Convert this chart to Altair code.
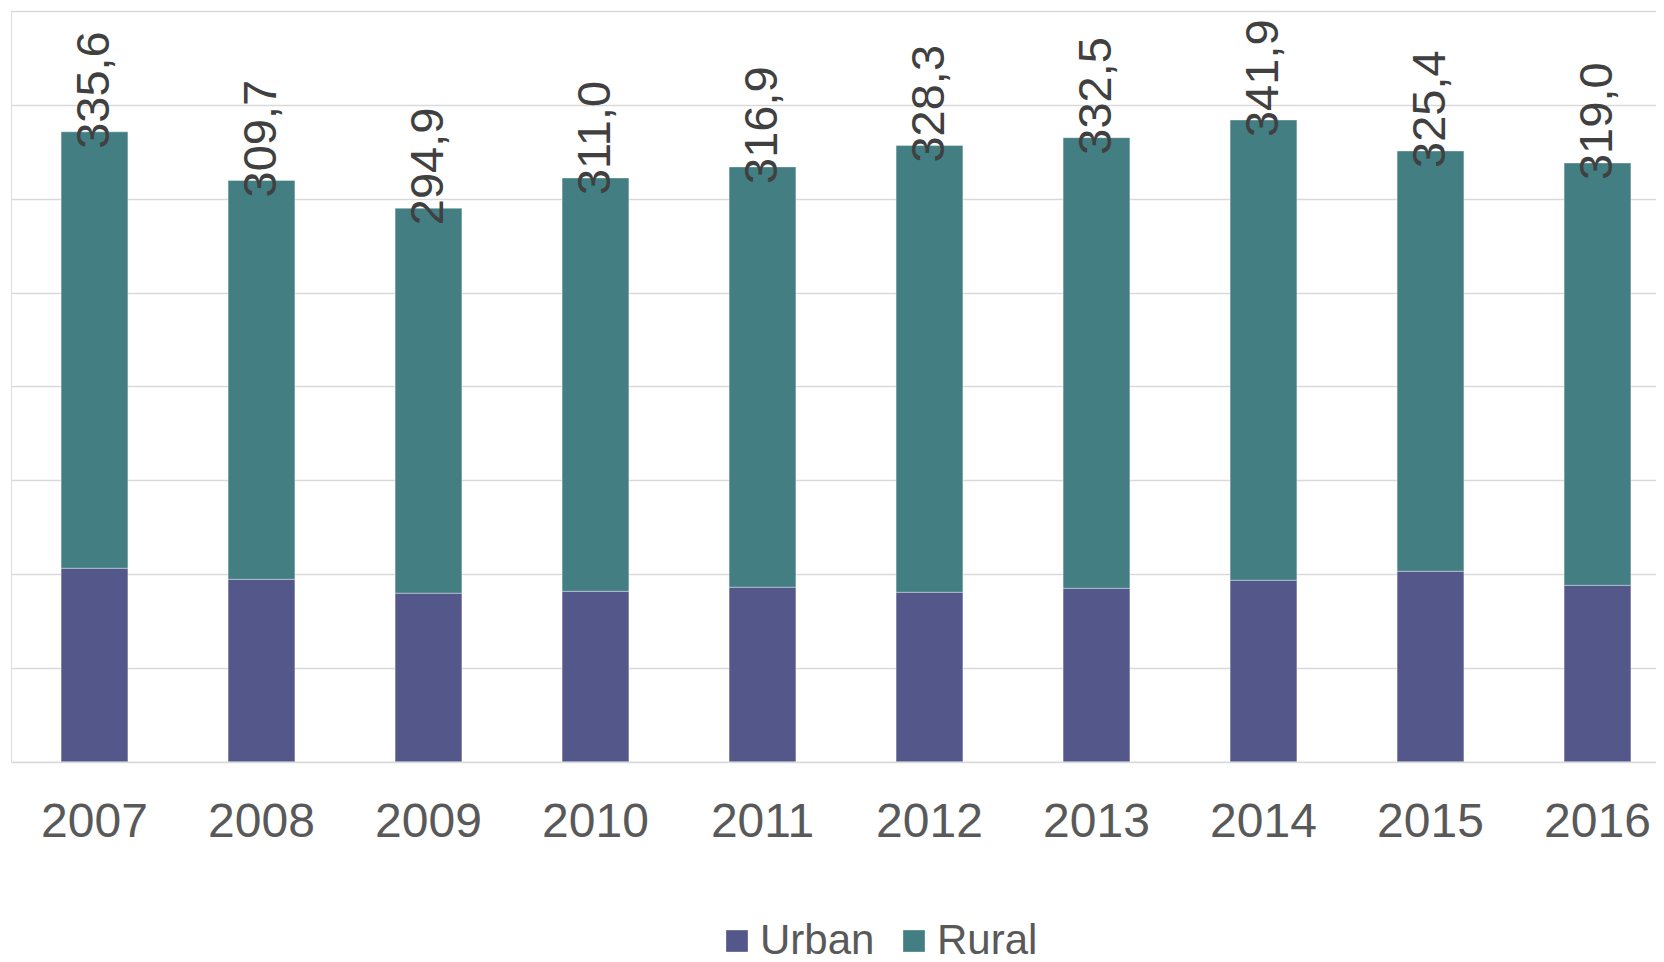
import altair as alt
import pandas as pd

years = ["2007", "2008", "2009", "2010", "2011", "2012", "2013", "2014", "2015", "2016"]
totals = [335.6, 309.7, 294.9, 311.0, 316.9, 328.3, 332.5, 341.9, 325.4, 319.0]
urban = [103.1, 97.2, 89.8, 90.8, 93.0, 90.3, 92.4, 96.7, 101.5, 94.0]
rural = [round(t - u, 1) for t, u in zip(totals, urban)]
labels = ["335,6", "309,7", "294,9", "311,0", "316,9", "328,3", "332,5", "341,9", "325,4", "319,0"]

rows = []
for y, u, r in zip(years, urban, rural):
    rows.append({"year": y, "series": "Urban", "value": u, "idx": 0})
    rows.append({"year": y, "series": "Rural", "value": r, "idx": 1})
df = pd.DataFrame(rows)
tot = pd.DataFrame({"year": years, "total": totals, "label": labels})

FONT = "Liberation Sans"

x_enc = alt.X("year:N", sort=years,
              scale=alt.Scale(paddingInner=0.6, paddingOuter=0.3),
              axis=alt.Axis(title=None, labelAngle=0, ticks=False, domain=False, grid=False,
                            labelFontSize=48, labelColor="#595959", labelFont=FONT,
                            labelPadding=37))

bars = alt.Chart(df).mark_bar(stroke="#ffffff", strokeWidth=0.8, strokeOpacity=0.45).encode(
    x=x_enc,
    y=alt.Y("value:Q", stack="zero",
            scale=alt.Scale(domain=[0, 400], nice=False),
            axis=alt.Axis(title=None, labels=False, ticks=False, domain=False,
                          values=[0, 50, 100, 150, 200, 250, 300, 350, 400],
                          gridColor="#d9d9d9", gridWidth=1.3)),
    color=alt.Color("series:N",
                    scale=alt.Scale(domain=["Urban", "Rural"], range=["#54578a", "#437e83"]),
                    legend=alt.Legend(title=None, orient="none", legendX=705, legendY=909,
                                      direction="horizontal", symbolType="square",
                                      symbolSize=470, symbolStrokeWidth=0,
                                      labelFontSize=42, labelColor="#595959", labelFont=FONT,
                                      labelOffset=2, columnPadding=18)),
    order=alt.Order("idx:Q", sort="ascending"),
)

text = alt.Chart(tot).mark_text(angle=270, align="left", baseline="middle", dx=-17,
                                fontSize=47, font=FONT, color="#404040").encode(
    x=alt.X("year:N", sort=years),
    y=alt.Y("total:Q"),
    text="label:N",
)

chart = (bars + text).properties(
    width=1670, height=750.7,
    autosize=alt.AutoSizeParams(type="none"),
    padding={"left": 3, "top": 3, "right": -25, "bottom": 200.3},
).configure_view(stroke=None).configure(font=FONT)

chart.save("out.html", embed_options={"renderer": "svg", "actions": False})
